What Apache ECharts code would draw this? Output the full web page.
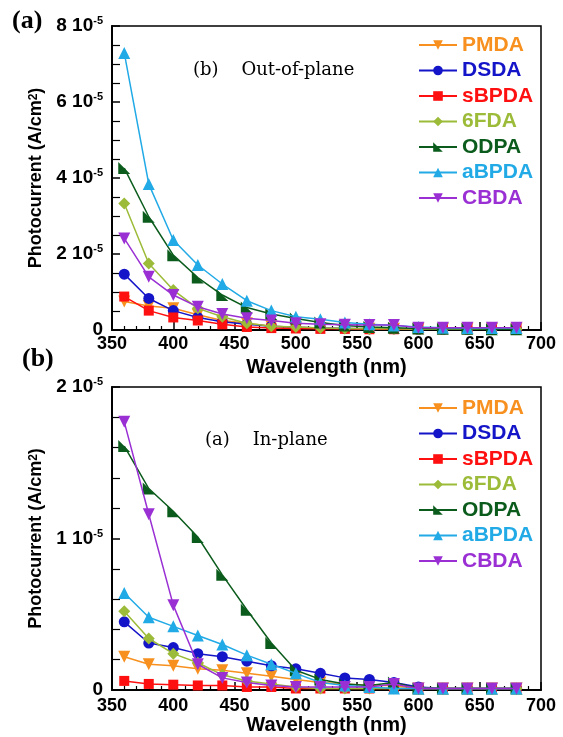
<!DOCTYPE html>
<html>
<head>
<meta charset="utf-8">
<script src="https://cdn.jsdelivr.net/npm/echarts@6.0.0/dist/echarts.min.js"></script>
<style>
  html, body { margin: 0; padding: 0; background: #fff; }
  #main { width: 563px; height: 737px; }
</style>
</head>
<body>
<div id="main"></div>
<script>
// wavelengths (nm), photocurrent values in units of 1e-5 A/cm2
const wavelengths = [360, 380, 400, 420, 440, 460, 480, 500, 520, 540, 560, 580, 600, 620, 640, 660, 680];
const names = ["PMDA", "DSDA", "sBPDA", "6FDA", "ODPA", "aBPDA", "CBDA"];
const colors = ["#f7901e", "#1414c8", "#ff1010", "#9cbb38", "#0b5c1c", "#22aae6", "#9a30d4"];

// (a) top panel: out-of-plane
const outPMDA  = [0.75, 0.63, 0.57, 0.40, 0.25, 0.18, 0.10, 0.07, 0.05, 0.04, 0.03, 0.03, 0.03, 0.03, 0.03, 0.03, 0.03];
const outDSDA  = [1.47, 0.83, 0.51, 0.33, 0.22, 0.15, 0.10, 0.07, 0.05, 0.04, 0.03, 0.03, 0.02, 0.02, 0.02, 0.02, 0.02];
const outSBPDA = [0.88, 0.51, 0.33, 0.25, 0.15, 0.08, 0.05, 0.04, 0.03, 0.03, 0.02, 0.02, 0.02, 0.02, 0.02, 0.02, 0.02];
const out6FDA  = [3.33, 1.75, 1.05, 0.57, 0.35, 0.18, 0.10, 0.08, 0.05, 0.04, 0.03, 0.03, 0.02, 0.02, 0.02, 0.02, 0.02];
const outODPA  = [4.26, 2.98, 1.97, 1.38, 0.92, 0.59, 0.42, 0.30, 0.20, 0.12, 0.08, 0.06, 0.04, 0.03, 0.03, 0.02, 0.02];
const outABPDA = [7.29, 3.84, 2.37, 1.71, 1.21, 0.77, 0.51, 0.35, 0.28, 0.20, 0.15, 0.12, 0.08, 0.06, 0.05, 0.05, 0.05];
const outCBDA  = [2.41, 1.40, 0.92, 0.61, 0.42, 0.31, 0.25, 0.18, 0.15, 0.14, 0.13, 0.13, 0.06, 0.06, 0.06, 0.06, 0.06];

// (b) bottom panel: in-plane
const inPMDA  = [0.22, 0.17, 0.16, 0.14, 0.13, 0.11, 0.09, 0.07, 0.05, 0.04, 0.03, 0.03, 0.01, 0.01, 0.01, 0.01, 0.01];
const inDSDA  = [0.45, 0.31, 0.28, 0.24, 0.22, 0.19, 0.16, 0.14, 0.11, 0.08, 0.07, 0.05, 0.02, 0.01, 0.01, 0.01, 0.01];
const inSBPDA = [0.06, 0.04, 0.035, 0.03, 0.03, 0.02, 0.02, 0.01, 0.01, 0.01, 0.01, 0.01, 0.01, 0.01, 0.01, 0.01, 0.01];
const in6FDA  = [0.52, 0.34, 0.24, 0.18, 0.10, 0.06, 0.04, 0.02, 0.01, 0.01, 0.01, 0.01, 0.01, 0.01, 0.01, 0.01, 0.01];
const inODPA  = [1.61, 1.33, 1.18, 1.01, 0.76, 0.53, 0.31, 0.13, 0.07, 0.04, 0.03, 0.05, 0.01, 0.01, 0.01, 0.01, 0.01];
const inABPDA = [0.64, 0.48, 0.42, 0.36, 0.30, 0.23, 0.17, 0.11, 0.05, 0.03, 0.02, 0.01, 0.01, 0.01, 0.01, 0.01, 0.01];
const inCBDA  = [1.77, 1.16, 0.56, 0.17, 0.08, 0.05, 0.03, 0.02, 0.02, 0.02, 0.02, 0.04, 0.01, 0.01, 0.01, 0.01, 0.01];

const outData = [outPMDA, outDSDA, outSBPDA, out6FDA, outODPA, outABPDA, outCBDA];
const inData = [inPMDA, inDSDA, inSBPDA, in6FDA, inODPA, inABPDA, inCBDA];

const symbols = ["triangle", "circle", "rect", "diamond", "path://M0,0 L0,10 L10,10 Z", "triangle", "triangle"];
const rotates = [180, 0, 0, 0, 0, 0, 180];
const sizes = [12, 11, 10, 12, 12, 12, 12];

const font = "Liberation Sans, Arial, sans-serif";

let chart = echarts.init(document.getElementById("main"));

function xAxisFor(idx, nameGap, margin) {
  return {
    type: "value", gridIndex: idx, min: 350, max: 700, interval: 50,
    name: "Wavelength (nm)", nameLocation: "middle", nameGap: nameGap,
    nameTextStyle: { fontFamily: font, fontWeight: "bold", fontSize: 20, color: "#000" },
    axisLine: { lineStyle: { color: "#000", width: 2 } },
    axisTick: { inside: true, length: 8, lineStyle: { color: "#000", width: 1.5 } },
    minorTick: { show: true, splitNumber: 5, length: 4, lineStyle: { color: "#000", width: 1.2 } },
    axisLabel: { fontFamily: font, fontWeight: "bold", fontSize: 18, color: "#000", margin: margin },
    splitLine: { show: false }
  };
}

function yAxisFor(idx, max, interval, minorSplit) {
  return {
    type: "value", gridIndex: idx, min: 0, max: max, interval: interval,
    name: "Photocurrent (A/cm{s|2})", nameLocation: "middle", nameGap: 57, nameRotate: 90,
    nameTextStyle: {
      fontFamily: font, fontWeight: "bold", fontSize: 18, color: "#000",
      rich: { s: { fontFamily: font, fontWeight: "bold", fontSize: 12, verticalAlign: "top", lineHeight: 10 } }
    },
    axisLine: { lineStyle: { color: "#000", width: 2 } },
    axisTick: { inside: true, length: 8, lineStyle: { color: "#000", width: 1.5 } },
    minorTick: { show: true, splitNumber: minorSplit, length: 8, lineStyle: { color: "#000", width: 1.2 } },
    axisLabel: {
      margin: 9,
      formatter: function (v) { return v === 0 ? "{a|0}" : "{a|" + v + " 10}{s|-5}"; },
      rich: {
        a: { fontFamily: font, fontWeight: "bold", fontSize: 19, color: "#000", lineHeight: 21 },
        s: { fontFamily: font, fontWeight: "bold", fontSize: 11, color: "#000", verticalAlign: "top", lineHeight: 10 }
      }
    },
    splitLine: { show: false }
  };
}

function legendFor(top) {
  return {
    left: 418, top: top, padding: 0, orient: "vertical", itemWidth: 38, itemHeight: 12, itemGap: 4.5,
    textStyle: { fontFamily: font, fontWeight: "bold", fontSize: 21, lineHeight: 21 },
    data: names.map((n, i) => ({ name: n, textStyle: { color: colors[i] } }))
  };
}

let series = [];
[outData, inData].forEach((set, g) => {
  set.forEach((vals, i) => {
    series.push({
      name: names[i], type: "line", xAxisIndex: g, yAxisIndex: g,
      data: wavelengths.map((w, k) => [w, vals[k]]),
      symbol: symbols[i], symbolRotate: rotates[i], symbolSize: sizes[i],
      lineStyle: { color: colors[i], width: 1.5 },
      itemStyle: { color: colors[i] },
      z: 2 + i
    });
  });
});

let option = {
  animation: false,
  backgroundColor: "#fff",
  grid: [
    { left: 112, top: 26, width: 429, height: 304, show: true, borderColor: "#000", borderWidth: 1.5 },
    { left: 112, top: 387, width: 429, height: 303, show: true, borderColor: "#000", borderWidth: 1.5 }
  ],
  xAxis: [xAxisFor(0, 27, 5), xAxisFor(1, 22, 7)],
  yAxis: [yAxisFor(0, 8, 2, 4), yAxisFor(1, 2, 1, 5)],
  legend: [legendFor(34.5), legendFor(397.5)],
  graphic: [
    { type: "text", left: 12, top: 8, style: { text: "(a)", font: "bold 26px 'Liberation Serif', serif", fill: "#000" } },
    { type: "text", left: 22, top: 346, style: { text: "(b)", font: "bold 26px 'Liberation Serif', serif", fill: "#000" } },
    { type: "text", left: 193, top: 61, style: { text: "(b)    Out-of-plane", font: "18px 'DejaVu Serif', serif", fill: "#000" } },
    { type: "text", left: 205, top: 431, style: { text: "(a)    In-plane", font: "18px 'DejaVu Serif', serif", fill: "#000" } }
  ],
  series: series
};

chart.setOption(option);
</script>
</body>
</html>
